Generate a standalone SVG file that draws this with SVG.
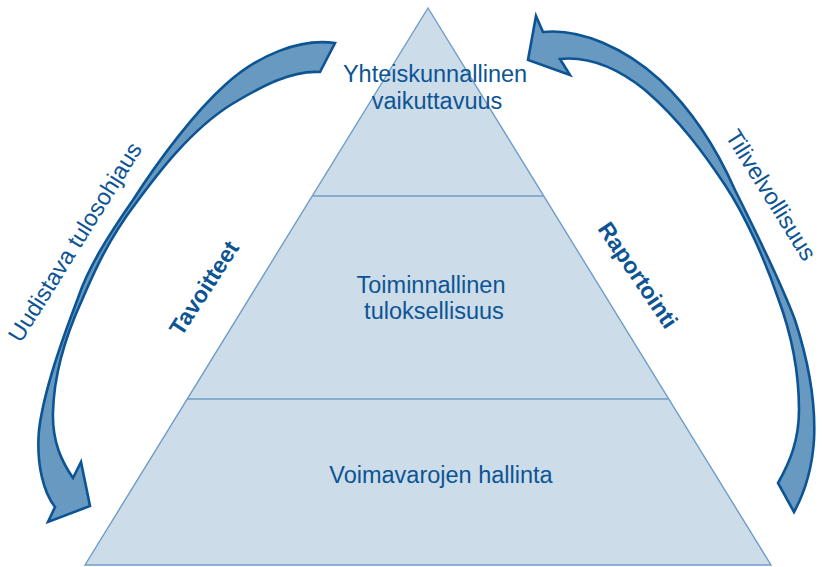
<svg xmlns="http://www.w3.org/2000/svg" width="822" height="567" viewBox="0 0 822 567">
  <style>
    .tier { fill: #ccdce9; stroke: #6f9dc7; stroke-width: 1.4; }
    .divider { fill: none; stroke: #6f9dc7; stroke-width: 1.4; }
    .arrow { fill: #6899c1; stroke: #0c5493; stroke-width: 2.6; stroke-linejoin: miter; }
    text { font-family: "Liberation Sans", Arial, sans-serif; fill: #0d5494; font-size: 23.5px; }
    .level { text-anchor: middle; }
    .side { text-anchor: middle; font-weight: bold; font-size: 23px; }
    .flow { text-anchor: middle; }
  </style>

  <!-- Pyramid -->
  <g id="pyramid">
    <polygon class="tier" points="428,8 771,565 85,565"/>
  </g>

  <g id="level-top">
    <line class="divider" x1="312" y1="196" x2="543" y2="196"/>
    <text class="level" x="435" y="82">Yhteiskunnallinen</text>
    <text class="level" x="437" y="109">vaikuttavuus</text>
  </g>

  <g id="level-middle">
    <line class="divider" x1="187" y1="399" x2="668" y2="399"/>
    <text class="level" x="431" y="293">Toiminnallinen</text>
    <text class="level" x="434" y="319">tuloksellisuus</text>
  </g>

  <g id="level-bottom">
    <text class="level" x="441" y="483">Voimavarojen hallinta</text>
  </g>

  <!-- Side labels along the pyramid edges -->
  <g id="label-tavoitteet">
    <text class="side" transform="translate(204,288) rotate(-57)" x="0" y="8">Tavoitteet</text>
  </g>
  <g id="label-raportointi">
    <text class="side" transform="translate(638,275) rotate(56)" x="0" y="8">Raportointi</text>
  </g>

  <!-- Curved flow arrows -->
  <g id="connectors">
    <path id="arrow-left" class="arrow" d="M335,43
      C300,38 258,55 225,85
      C195,112 160,158 133,200
      C108,236 88,268 78,298
      C62,340 44,390 39,430
      C36,465 44,493 55,507
      L48,522 L90,506 L81,462 L73,478
      C62,462 52,442 53,412
      C54,372 66,335 82,300
      C94,272 108,240 136,203
      C156,176 190,130 232,104
      C262,86 292,70 320,72 Z"/>
    <path id="arrow-right" class="arrow" d="M543,32
      C580,28 625,48 660,80
      C690,108 715,145 735,190
      C755,230 780,280 795,320
      C808,360 816,400 814,440
      C812,470 805,492 794,512
      L778,483
      C790,462 799,440 799,410
      C799,370 790,330 778,298
      C765,260 745,215 725,185
      C705,155 680,120 645,90
      C620,70 590,56 560,59
      L570,75 L528,60 L536,16 Z"/>
  </g>

  <g id="label-uudistava">
    <text class="flow" transform="translate(75,242) rotate(-58)" x="0" y="8">Uudistava tulosohjaus</text>
  </g>
  <g id="label-tilivelvollisuus">
    <text class="flow" transform="translate(771,195) rotate(58)" x="0" y="8">Tilivelvollisuus</text>
  </g>
</svg>
